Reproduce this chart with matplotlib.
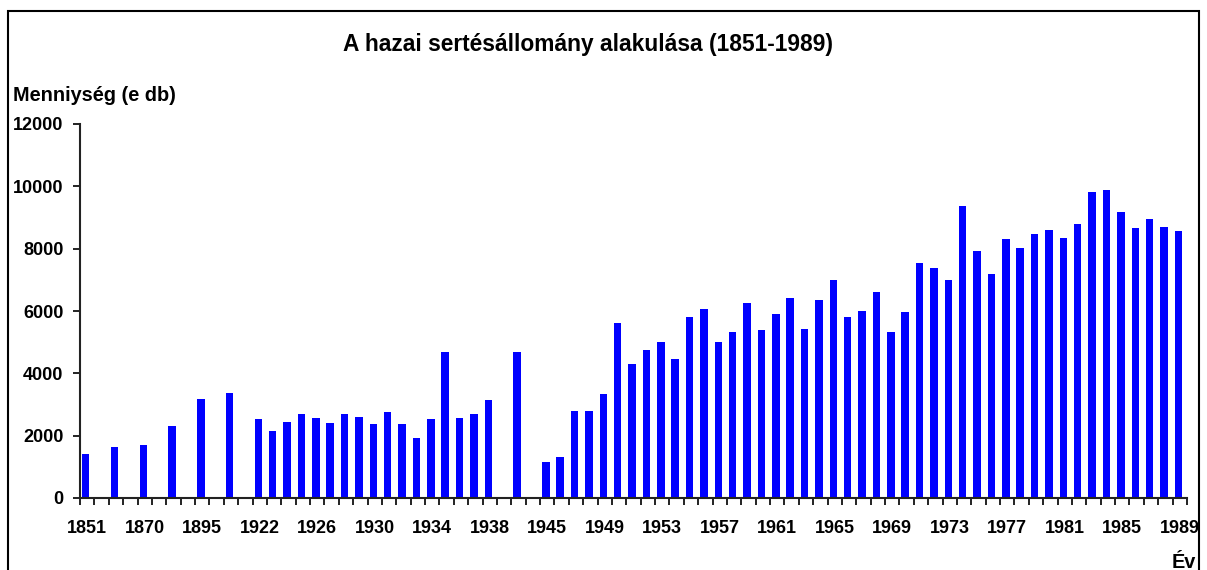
import numpy as np
import matplotlib.pyplot as plt
from matplotlib.patches import Rectangle

plt.rcParams['font.family'] = ['Liberation Sans', 'DejaVu Sans']
plt.rcParams['font.weight'] = 'bold'

# category slots as in the source sheet (empty slots have no bar)
years = ['1851', '', '1857', '', '1870', '', '1884', '', '1895', '', '1911', '',
         '1922', '1923', '1924', '1925', '1926', '1927', '1928', '1929', '1930',
         '1931', '1932', '1933', '1934', '1935', '1936', '1937', '1938', '',
         '1942', '', '1945', '1946', '1947', '1948', '1949', '1950', '1951',
         '1952', '1953', '1954', '1955', '1956', '1957', '1958', '1959', '1960',
         '1961', '1962', '1963', '1964', '1965', '1966', '1967', '1968', '1969',
         '1970', '1971', '1972', '1973', '1974', '1975', '1976', '1977', '1978',
         '1979', '1980', '1981', '1982', '1983', '1984', '1985', '1986', '1987',
         '1988', '1989']
nan = np.nan
pigs = [1400, nan, 1650, nan, 1690, nan, 2320, nan, 3190, nan, 3380, nan,
        2520, 2160, 2450, 2680, 2580, 2420, 2710, 2610, 2360,
        2770, 2360, 1940, 2520, 4700, 2580, 2680, 3160, nan,
        4700, nan, 1140, 1330, 2800, 2800, 3350, 5600, 4310,
        4760, 5020, 4470, 5820, 6070, 5020, 5340, 6270, 5400,
        5910, 6430, 5430, 6360, 7000, 5820, 6010, 6620, 5340,
        5980, 7550, 7390, 7000, 9380, 7930, 7200, 8320, 8030,
        8480, 8610, 8350, 8800, 9820, 9890, 9180, 8670, 8960,
        8700, 8570]
yticks = [0, 2000, 4000, 6000, 8000, 10000, 12000]

W, H = 1207, 570
fig = plt.figure(figsize=(W / 100, H / 100), dpi=100)
ax = fig.add_axes([80 / W, 1 - 498 / H, 1107 / W, 374 / H])

x = np.arange(len(years))
ax.bar(x - 0.1, pigs, width=0.52, color='#0000ff', zorder=2)

ax.set_xlim(-0.5, len(years) - 0.5)
ax.set_ylim(0, 12000)
ax.set_yticks(yticks)
ax.set_yticklabels([str(v) for v in yticks], fontsize=13, fontweight='bold')

# tick marks between categories, labels on every 4th category
ax.set_xticks(np.arange(-0.5, len(years), 1))
ax.set_xticklabels([])
ax.set_xticks(x[::4], minor=True)
ax.set_xticklabels(years[::4], minor=True, fontsize=13, fontweight='bold')
ax.tick_params(axis='x', which='major', length=5, width=1.4, color='#222222')
ax.tick_params(axis='x', which='minor', length=0, pad=16)
ax.tick_params(axis='y', length=5, width=1.4, color='#222222', pad=7)

for s in ('top', 'right'):
    ax.spines[s].set_visible(False)
for s in ('left', 'bottom'):
    ax.spines[s].set_linewidth(1.5)
    ax.spines[s].set_color('#222222')

fig.text(588 / W, 1 - 51 / H, 'A hazai sertésállomány alakulása (1851-1989)',
         ha='center', va='baseline', fontsize=16.4, fontweight='bold')
fig.text(13 / W, 1 - 101 / H, 'Menniység (e db)', ha='left', va='baseline',
         fontsize=14.3, fontweight='bold')
fig.text(1196 / W, 1 - 568 / H, 'Év', ha='right', va='baseline',
         fontsize=14.3, fontweight='bold')

# outer chart frame
fig.patches.append(Rectangle((8 / W, -0.1), 1191 / W, 1.1 - 11 / H,
                             transform=fig.transFigure, fill=False,
                             edgecolor='black', linewidth=1.5))

fig.savefig('out.png', dpi=100)
